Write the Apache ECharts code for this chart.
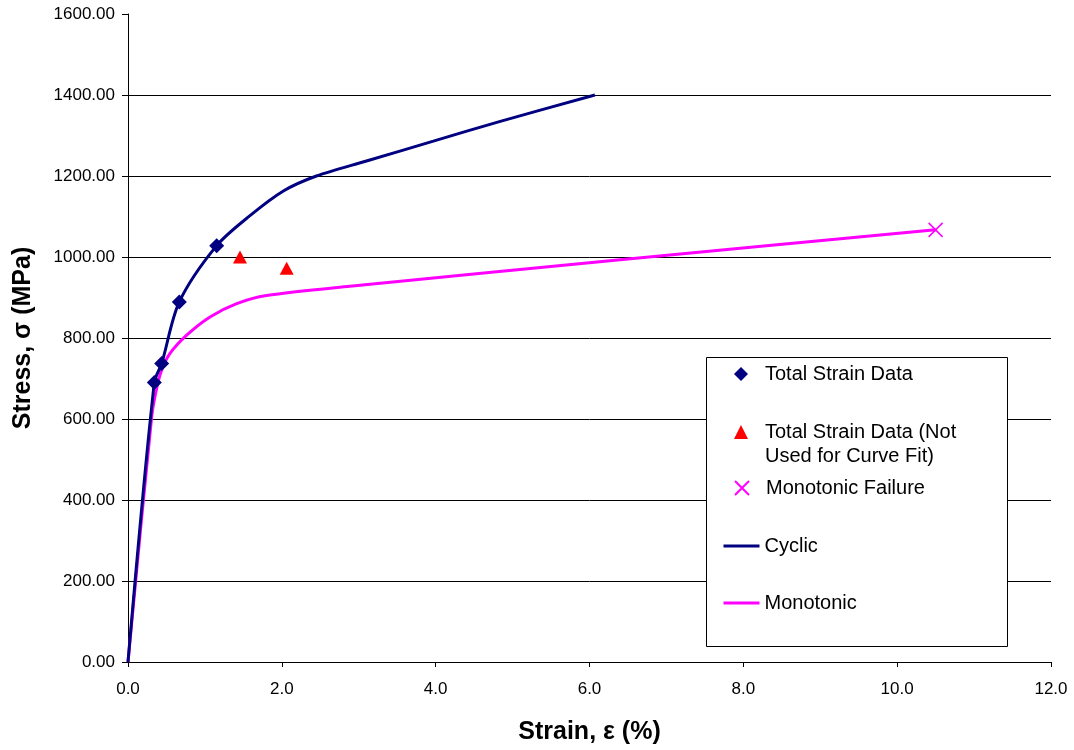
<!DOCTYPE html>
<html>
<head>
<meta charset="utf-8">
<script src="https://cdn.jsdelivr.net/npm/echarts@6/dist/echarts.min.js"></script>
<style>
  html, body { margin: 0; padding: 0; background: #fff; }
  #chart { width: 1074px; height: 750px; }
</style>
</head>
<body>
<div id="chart"></div>
<script>
// Stress-strain data (strain in %, stress in MPa)
const totalStrainX = [0.342, 0.438, 0.667, 1.153];
const totalStrainY = [690, 737, 889, 1028];

const notUsedX = [1.456, 2.063];
const notUsedY = [1000, 972];

const failureX = [10.5];
const failureY = [1067];

const cyclicX = [0, 0.342, 0.438, 0.667, 1.153, 1.586, 2.02, 2.45, 3.10, 3.97, 4.84, 6.07];
const cyclicY = [0, 690, 737, 889, 1028, 1102, 1163, 1200, 1237, 1286, 1335, 1400];

const monoX = [0, 0.308, 0.373, 0.438, 0.546, 0.763, 1.066, 1.413, 1.80, 2.886, 6.5, 10.5];
const monoY = [0, 606, 676, 721, 762, 807, 852, 885, 905, 928, 995, 1067];

const xTicks = [0, 2, 4, 6, 8, 10, 12];
const yTicks = [0, 200, 400, 600, 800, 1000, 1200, 1400, 1600];

const zip = (xs, ys) => xs.map((x, i) => [x, ys[i]]);

const FONT = 'Liberation Sans, Arial, sans-serif';
const NAVY = '#000080';
const MAGENTA = '#FF00FF';
const RED = '#FF0000';
const CROSS = 'path://M0,0 L10,10 M10,0 L0,10';

const NAMES = {
  data: 'Total Strain Data',
  notUsed: 'Total Strain Data (Not Used for Curve Fit)',
  failure: 'Monotonic Failure',
  cyclic: 'Cyclic',
  mono: 'Monotonic'
};

// one legend block per entry so each row sits at its own height
function legendAt(name, centerY, extra) {
  return Object.assign({
    data: [name],
    orient: 'vertical',
    left: 722,
    top: centerY - 11,
    padding: 0,
    itemWidth: 36,
    itemHeight: 14,
    itemGap: 0,
    selectedMode: false,
    symbolKeepAspect: true,
    z: 10,
    textStyle: { fontFamily: FONT, fontSize: 20, color: '#000' }
  }, extra || {});
}

// marker entries: a square icon box, text pushed to the same column as the line entries
function markerLegendAt(name, centerY, extra) {
  return legendAt(name, centerY, Object.assign({
    left: 734,
    itemWidth: 14,
    textStyle: { fontFamily: FONT, fontSize: 20, color: '#000', padding: [0, 0, 0, 12] }
  }, extra || {}));
}

const chart = echarts.init(document.getElementById('chart'), null, { renderer: 'canvas' });

// hide the gridline at the top value; keep the others black
const gridColors = yTicks.map(v => (v === yTicks[yTicks.length - 1] ? 'rgba(0,0,0,0)' : '#000'));

chart.setOption({
  backgroundColor: '#fff',
  animation: false,
  grid: { left: 128, right: 23, top: 14, bottom: 85, containLabel: false },
  xAxis: {
    type: 'value',
    min: xTicks[0],
    max: xTicks[xTicks.length - 1],
    interval: 2,
    name: 'Strain, ε (%)',
    nameLocation: 'middle',
    nameGap: 58,
    nameTextStyle: { fontFamily: FONT, fontSize: 25, fontWeight: 'bold', color: '#000' },
    axisLine: { show: true, onZero: false, lineStyle: { color: '#000', width: 1 } },
    axisTick: { show: true, inside: false, length: 5, lineStyle: { color: '#000' } },
    axisLabel: {
      fontFamily: FONT, fontSize: 17, color: '#000', margin: 19,
      formatter: v => v.toFixed(1)
    },
    splitLine: { show: false }
  },
  yAxis: {
    type: 'value',
    min: yTicks[0],
    max: yTicks[yTicks.length - 1],
    interval: 200,
    name: 'Stress, σ (MPa)',
    nameLocation: 'middle',
    nameGap: 92,
    nameRotate: 90,
    nameTextStyle: { fontFamily: FONT, fontSize: 25, fontWeight: 'bold', color: '#000' },
    axisLine: { show: true, onZero: false, lineStyle: { color: '#000', width: 1 } },
    axisTick: { show: true, inside: false, length: 6, lineStyle: { color: '#000' } },
    axisLabel: {
      fontFamily: FONT, fontSize: 17, color: '#000', margin: 13,
      formatter: v => v.toFixed(2)
    },
    splitLine: { show: true, lineStyle: { color: gridColors, width: 1 } }
  },
  legend: [
    markerLegendAt(NAMES.data, 375),
    markerLegendAt(NAMES.notUsed, 433, { formatter: () => 'Total Strain Data (Not' }),
    markerLegendAt(NAMES.failure, 489),
    legendAt(NAMES.cyclic, 547, { itemStyle: { opacity: 0 }, lineStyle: { width: 3 } }),
    legendAt(NAMES.mono, 604, { itemStyle: { opacity: 0 }, lineStyle: { width: 3 } })
  ],
  graphic: [
    {
      type: 'rect',
      shape: { x: 706.5, y: 357.5, width: 301, height: 289 },
      style: { fill: '#fff', stroke: '#000', lineWidth: 1 },
      z: 5
    },
    {
      type: 'text',
      left: 765,
      top: 446,
      z: 11,
      style: { text: 'Used for Curve Fit)', font: '20px ' + FONT, fill: '#000' }
    }
  ],
  series: [
    {
      name: NAMES.cyclic,
      type: 'line',
      data: zip(cyclicX, cyclicY),
      symbol: 'none',
      smooth: 0.3,
      lineStyle: { color: NAVY, width: 3 },
      itemStyle: { color: NAVY },
      z: 3
    },
    {
      name: NAMES.mono,
      type: 'line',
      data: zip(monoX, monoY),
      symbol: 'none',
      smooth: 0.3,
      lineStyle: { color: MAGENTA, width: 3 },
      itemStyle: { color: MAGENTA },
      z: 2
    },
    {
      name: NAMES.data,
      type: 'scatter',
      data: zip(totalStrainX, totalStrainY),
      symbol: 'diamond',
      symbolSize: 15,
      symbolKeepAspect: true,
      itemStyle: { color: NAVY, opacity: 1 },
      z: 4
    },
    {
      name: NAMES.notUsed,
      type: 'scatter',
      data: zip(notUsedX, notUsedY),
      symbol: 'triangle',
      symbolSize: [14, 13],
      symbolKeepAspect: true,
      itemStyle: { color: RED, opacity: 1 },
      z: 4
    },
    {
      name: NAMES.failure,
      type: 'scatter',
      data: zip(failureX, failureY),
      symbol: CROSS,
      symbolSize: 14,
      symbolKeepAspect: true,
      itemStyle: { color: 'rgba(0,0,0,0)', borderColor: MAGENTA, borderWidth: 1.5, opacity: 1 },
      z: 4
    }
  ]
});
</script>
</body>
</html>
